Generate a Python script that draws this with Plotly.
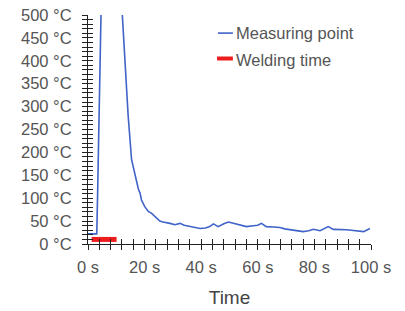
import plotly.graph_objects as go

# Measuring point temperature curve (time in s, temperature in °C)
time_s = [0, 1.0, 2.0, 3.1, 3.4, 4.0, 4.5, 5.2, 6.5, 8.0, 9.5, 10.8, 11.9, 13.1, 14.2, 15.4,
          16.3, 17.2, 17.8, 18.4, 18.9, 20.0, 21.3, 22.5, 24.0, 25.4, 26.5, 27.8, 29.0, 30.7,
          32.5, 34.0, 36.0, 38.0, 39.6, 41.5, 43.0, 44.3, 46.0, 48.0, 49.6, 51.0, 52.5, 54.0,
          56.0, 58.4, 60.0, 61.3, 63.0, 65.5, 67.8, 69.5, 71.4, 73.5, 76.0, 78.0, 79.6, 82.0,
          84.9, 86.7, 89.0, 91.4, 93.0, 95.0, 97.4, 99.6]
temp_c = [22, 22, 22, 22, 110, 320, 505, 700, 820, 850, 780, 640, 506, 389, 279, 184,
          160, 133, 120, 111, 96, 82, 71, 67, 58, 50, 48, 47, 45, 42,
          45, 41, 38, 36, 34, 35, 38, 44, 38, 44, 48, 46, 44, 42,
          38, 40, 41, 45, 38, 37, 36, 33, 31, 30, 27, 29, 32, 29,
          38, 32, 32, 31, 30, 29, 27, 34]

# Welding time interval
weld_time = [1.3, 10.1]
weld_level = [10, 10]

x_ticks = [0, 20, 40, 60, 80, 100]
y_ticks = [0, 50, 100, 150, 200, 250, 300, 350, 400, 450, 500]

FONT = "Liberation Sans, Arial, Helvetica, sans-serif"
TXT = "#555555"
BLUE = "#3f63c8"
RED = "#ee1c1c"

fig = go.Figure()
fig.add_trace(go.Scatter(x=time_s, y=temp_c, mode="lines", name="Measuring point",
                         line=dict(color=BLUE, width=1.6), showlegend=False))
fig.add_trace(go.Scatter(x=weld_time, y=weld_level, mode="lines", name="Welding time",
                         line=dict(color=RED, width=5), showlegend=False))

# invisible trace to activate overlay axes
fig.add_trace(go.Scatter(x=[0], y=[0], xaxis="x2", yaxis="y2", mode="markers",
                         marker=dict(opacity=0), showlegend=False, hoverinfo="skip"))

fig.update_layout(
    width=405, height=311,
    margin=dict(l=88, r=34, t=15, b=67, autoexpand=False),
    paper_bgcolor="white", plot_bgcolor="white",
    font=dict(family=FONT, size=16.5, color=TXT),
    xaxis=dict(range=[0, 100], tickvals=x_ticks, ticktext=[f"{v} s" for v in x_ticks],
               ticks="outside", ticklen=5, tickcolor="#222", tickwidth=1,
               minor=dict(dtick=4, tick0=0, ticks="outside", ticklen=5, tickcolor="#222"),
               showline=True, linecolor="#222", linewidth=1.2, showgrid=False,
               zeroline=False, ticklabelstandoff=3, automargin=False,
               title=dict(text="Time", font=dict(size=19, color="#444"), standoff=15)),
    yaxis=dict(range=[0, 500], tickvals=y_ticks, ticktext=[f"{v} °C" for v in y_ticks],
               ticks="outside", ticklen=5, tickcolor="#222", tickwidth=1,
               minor=dict(dtick=10, tick0=0, ticks="outside", ticklen=5, tickcolor="#222"),
               showline=True, linecolor="#222", linewidth=1.2, showgrid=False,
               zeroline=False, ticklabelstandoff=7, automargin=False),
    xaxis2=dict(range=[0, 100], overlaying="x", anchor="y", side="bottom", dtick=4, tick0=0,
                ticks="inside", ticklen=5, tickcolor="#222", showticklabels=False,
                showline=False, showgrid=False, zeroline=False, automargin=False),
    yaxis2=dict(range=[0, 500], overlaying="y", anchor="x", side="left", dtick=10, tick0=0,
                ticks="inside", ticklen=5, tickcolor="#222", showticklabels=False,
                showline=False, showgrid=False, zeroline=False, automargin=False),
)

# custom legend (swatches + labels)
fig.add_shape(type="line", xref="paper", yref="paper", x0=0.459, x1=0.512, y0=0.921, y1=0.921,
              line=dict(color=BLUE, width=1.6))
fig.add_shape(type="line", xref="paper", yref="paper", x0=0.456, x1=0.512, y0=0.81, y1=0.81,
              line=dict(color=RED, width=4))
fig.add_annotation(xref="paper", yref="paper", x=0.515, y=0.921, text="Measuring point",
                   showarrow=False, xanchor="left", yanchor="middle", font=dict(size=16.5, color=TXT))
fig.add_annotation(xref="paper", yref="paper", x=0.515, y=0.803, text="Welding time",
                   showarrow=False, xanchor="left", yanchor="middle", font=dict(size=16.5, color=TXT))

# remove the browser's default body margin so the figure fills the window exactly
fig.write_html("out.html", config={"displayModeBar": False},
               post_script="document.body.style.margin='0px';")
